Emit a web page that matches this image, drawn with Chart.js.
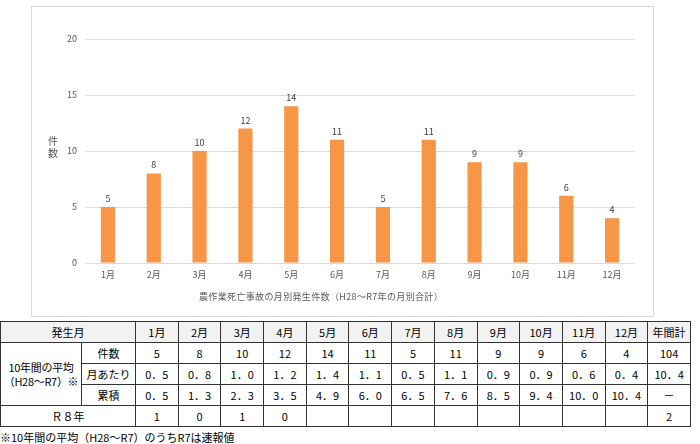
<!DOCTYPE html>
<html lang="ja">
<head>
<meta charset="utf-8">
<script src="https://cdn.jsdelivr.net/npm/chart.js@4.4.1/dist/chart.umd.min.js"></script>
<style>
  html, body { margin: 0; padding: 0; background: #fff; }
  body { width: 700px; height: 444px; position: relative; overflow: hidden;
         font-family: "Noto Sans CJK JP", "Noto Sans", sans-serif; }
  #chartBox { position: absolute; left: 31px; top: 6px; width: 621px; height: 309px;
              border: 1px solid #d9d9d9; }
  #chartBox canvas { display: block; }
  #yTitle { position: absolute; left: 47px; top: 135px; font-size: 10px; line-height: 12px;
            color: #595959; width: 12px; text-align: center; }
  #xTitle { position: absolute; left: 199px; top: 290px; font-size: 9px; letter-spacing: 0.35px;
            color: #595959; white-space: nowrap; }
  #stats { position: absolute; left: 0; top: 321px; border-collapse: collapse;
           table-layout: fixed; font-size: 11px; color: #000; }
  #stats td { border: 1px solid #333; height: 20px; padding: 0; text-align: center;
              white-space: nowrap; }
  #stats tr.head td { background: #f2f2f2; }
  #stats td.lbl { line-height: 14px; letter-spacing: -0.3px; }
  #note { position: absolute; left: 0; top: 429px; font-size: 11px; color: #000; }
</style>
</head>
<body>
<div id="chartBox"><canvas id="monthlyChart" width="621" height="309"></canvas></div>
<div id="yTitle">件<br>数</div>
<div id="xTitle"></div>
<table id="stats"></table>
<div id="note">※10年間の平均（H28～R7）のうちR7は速報値</div>
<script>
const months = ["1月", "2月", "3月", "4月", "5月", "6月", "7月", "8月", "9月", "10月", "11月", "12月"];
const counts = [5, 8, 10, 12, 14, 11, 5, 11, 9, 9, 6, 4];
const perMonth = ["0．5", "0．8", "1．0", "1．2", "1．4", "1．1", "0．5", "1．1", "0．9", "0．9", "0．6", "0．4"];
const cumulative = ["0．5", "1．3", "2．3", "3．5", "4．9", "6．0", "6．5", "7．6", "8．5", "9．4", "10．0", "10．4"];
const r8 = ["1", "0", "1", "0", "", "", "", "", "", "", "", ""];
const totals = { counts: "104", perMonth: "10．4", cumulative: "－", r8: "2" };
const yTicks = [0, 5, 10, 15, 20];
const xTitle = "農作業死亡事故の月別発生件数（H28～R7年の月別合計）";

const barColor = "#f79646";
const textGray = "#595959";

// value labels above each bar
const valueLabels = {
  id: "valueLabels",
  afterDatasetsDraw(chart) {
    const { ctx } = chart;
    const meta = chart.getDatasetMeta(0);
    ctx.save();
    ctx.font = "9px 'Noto Sans CJK JP', sans-serif";
    ctx.fillStyle = "#404040";
    ctx.textAlign = "center";
    ctx.textBaseline = "bottom";
    meta.data.forEach((bar, i) => {
      ctx.fillText(String(counts[i]), bar.x, bar.y - 4);
    });
    ctx.restore();
  },
};

new Chart(document.getElementById("monthlyChart"), {
  type: "bar",
  data: {
    labels: months,
    datasets: [{
      data: counts,
      backgroundColor: barColor,
      borderWidth: 0,
      categoryPercentage: 1,
      barPercentage: 0.31,
    }],
  },
  options: {
    responsive: false,
    animation: false,
    layout: { padding: { top: 32, right: 18, left: 0, bottom: 0 } },
    plugins: { legend: { display: false }, tooltip: { enabled: false } },
    scales: {
      x: {
        grid: { display: false, drawTicks: false },
        border: { display: false },
        ticks: { color: textGray, font: { size: 9, family: "'Noto Sans CJK JP', sans-serif" }, padding: 6, maxRotation: 0 },
        // the axis title sits left of centre in the original, so it is placed as a div
        title: { display: false },
        afterFit: (s) => { s.height = 53; },
      },
      y: {
        min: 0,
        max: 20,
        afterBuildTicks: (s) => { s.ticks = yTicks.map((v) => ({ value: v })); },
        grid: { color: "#d9d9d9", lineWidth: 1, drawTicks: false },
        border: { display: false },
        ticks: { color: textGray, font: { size: 9, family: "'Noto Sans CJK JP', sans-serif" }, padding: 8 },
        afterFit: (s) => { s.width = 53; },
      },
    },
  },
  plugins: [valueLabels],
});
document.getElementById("xTitle").textContent = xTitle;

// summary table built from the same arrays
function buildTable() {
  const table = document.getElementById("stats");
  const colW = [81, 54].concat(months.map(() => 42.7), [42.7]);
  const cg = document.createElement("colgroup");
  colW.forEach((w) => {
    const c = document.createElement("col");
    c.style.width = `${w}px`;
    cg.append(c);
  });
  table.append(cg);

  const row = (cls) => {
    const tr = document.createElement("tr");
    if (cls) tr.className = cls;
    table.append(tr);
    return tr;
  };
  const cell = (tr, text, opts = {}) => {
    const td = document.createElement("td");
    if (opts.html) td.innerHTML = text; else td.textContent = text;
    if (opts.colSpan) td.colSpan = opts.colSpan;
    if (opts.rowSpan) td.rowSpan = opts.rowSpan;
    if (opts.cls) td.className = opts.cls;
    tr.append(td);
    return td;
  };

  const head = row("head");
  cell(head, "発生月", { colSpan: 2 });
  months.forEach((m) => cell(head, m));
  cell(head, "年間計");

  const r1 = row();
  cell(r1, "10年間の平均<br>（H28～R7）※", { html: true, rowSpan: 3, cls: "lbl" });
  cell(r1, "件数");
  counts.forEach((v) => cell(r1, String(v)));
  cell(r1, totals.counts);

  const r2 = row();
  cell(r2, "月あたり");
  perMonth.forEach((v) => cell(r2, v));
  cell(r2, totals.perMonth);

  const r3 = row();
  cell(r3, "累積");
  cumulative.forEach((v) => cell(r3, v));
  cell(r3, totals.cumulative);

  const r4 = row();
  cell(r4, "Ｒ８年", { colSpan: 2 });
  r8.forEach((v) => cell(r4, v));
  cell(r4, totals.r8);
}
buildTable();
</script>
</body>
</html>
